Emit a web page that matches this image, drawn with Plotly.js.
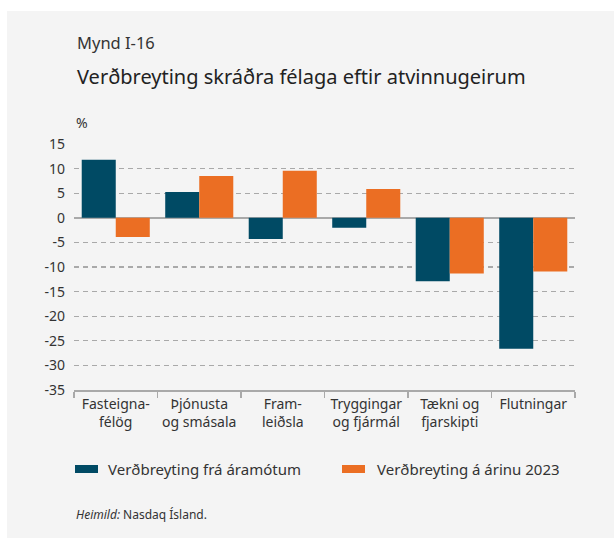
<!DOCTYPE html>
<html>
<head>
<meta charset="utf-8">
<script src="https://cdn.plot.ly/plotly-3.0.1.min.js"></script>
<style>
  html, body { margin: 0; padding: 0; background: #ffffff; }
  #panel { position: absolute; left: 7px; top: 11px; width: 607px; height: 527px; background: #f4f4f4; }
  #chart { position: absolute; left: 0; top: 0; width: 614px; height: 538px; }
</style>
</head>
<body>
<div id="panel"></div>
<div id="chart"></div>
<script>
const categories = ["Fasteigna-<br>félög", "Þjónusta<br>og smásala", "Fram-<br>leiðsla", "Tryggingar<br>og fjármál", "Tækni og<br>fjarskipti", "Flutningar"];
const seriesNames = ["Verðbreyting frá áramótum", "Verðbreyting á árinu 2023"];
const sinceNewYear = [11.8, 5.25, -4.3, -2.0, -12.9, -26.6];
const during2023 = [-3.9, 8.5, 9.55, 5.85, -11.3, -10.9];
const yTicks = [15, 10, 5, 0, -5, -10, -15, -20, -25, -30, -35];

const BLUE = "#004a64";
const ORANGE = "#eb6e23";
const FONT = "Noto Sans, Open Sans, sans-serif";
const TXT = "#333333";
const GRID = "#a9a9a9";

const W = 614, H = 538;
const M = {l: 74, r: 39, t: 144, b: 148};
const pw = W - M.l - M.r, ph = H - M.t - M.b;
const px = x => (x - M.l) / pw;
const py = y => (H - M.b - y) / ph;

const traces = [
  {type: "bar", x: categories, y: sinceNewYear, name: seriesNames[0], marker: {color: BLUE}, hoverinfo: "none"},
  {type: "bar", x: categories, y: during2023, name: seriesNames[1], marker: {color: ORANGE}, hoverinfo: "none"}
];

const layout = {
  width: W, height: H,
  margin: M,
  paper_bgcolor: "rgba(0,0,0,0)",
  plot_bgcolor: "rgba(0,0,0,0)",
  showlegend: false,
  barmode: "group",
  bargap: 0.185,
  bargroupgap: 0,
  font: {family: FONT, color: TXT, size: 14},
  xaxis: {
    type: "category",
    tickson: "boundaries",
    tickangle: 0,
    ticks: "outside",
    ticklen: 6,
    tickwidth: 1.5,
    tickcolor: GRID,
    showline: true,
    linecolor: GRID,
    linewidth: 2,
    showgrid: false,
    tickfont: {family: FONT, size: 14, color: TXT},
    fixedrange: true
  },
  yaxis: {
    range: [-35, 15],
    tickvals: yTicks,
    ticktext: yTicks.map(String),
    showgrid: true,
    gridcolor: GRID,
    gridwidth: 1.3,
    griddash: "5px,4px",
    zeroline: true,
    zerolinecolor: GRID,
    zerolinewidth: 2,
    showline: false,
    ticks: "",
    ticklabelstandoff: 8,
    tickfont: {family: FONT, size: 14, color: TXT},
    fixedrange: true
  },
  shapes: [
    {type: "rect", xref: "paper", yref: "paper", x0: px(75), x1: px(98), y0: py(465), y1: py(473), fillcolor: BLUE, line: {width: 0}},
    {type: "rect", xref: "paper", yref: "paper", x0: px(342), x1: px(365), y0: py(465), y1: py(473), fillcolor: ORANGE, line: {width: 0}}
  ],
  annotations: [
    {xref: "paper", yref: "paper", x: px(75), y: py(43), xanchor: "left", yanchor: "middle", showarrow: false, text: "Mynd I-16", font: {family: FONT, size: 16.5, color: TXT}},
    {xref: "paper", yref: "paper", x: px(75), y: py(76), xanchor: "left", yanchor: "middle", showarrow: false, text: "Verðbreyting skráðra félaga eftir atvinnugeirum", font: {family: FONT, size: 20, color: "#222222"}},
    {xref: "paper", yref: "paper", x: px(74), y: py(123), xanchor: "left", yanchor: "middle", showarrow: false, text: "%", font: {family: FONT, size: 14, color: TXT}},
    {xref: "paper", yref: "paper", x: px(106), y: py(469), xanchor: "left", yanchor: "middle", showarrow: false, text: seriesNames[0], font: {family: FONT, size: 15, color: TXT}},
    {xref: "paper", yref: "paper", x: px(375), y: py(469), xanchor: "left", yanchor: "middle", showarrow: false, text: seriesNames[1], font: {family: FONT, size: 15, color: TXT}},
    {xref: "paper", yref: "paper", x: px(74), y: py(514), xanchor: "left", yanchor: "middle", showarrow: false, text: "<i>Heimild:</i> Nasdaq Ísland.", font: {family: FONT, size: 12, color: TXT}}
  ]
};

Plotly.newPlot("chart", traces, layout, {staticPlot: true, displayModeBar: false});
</script>
</body>
</html>
